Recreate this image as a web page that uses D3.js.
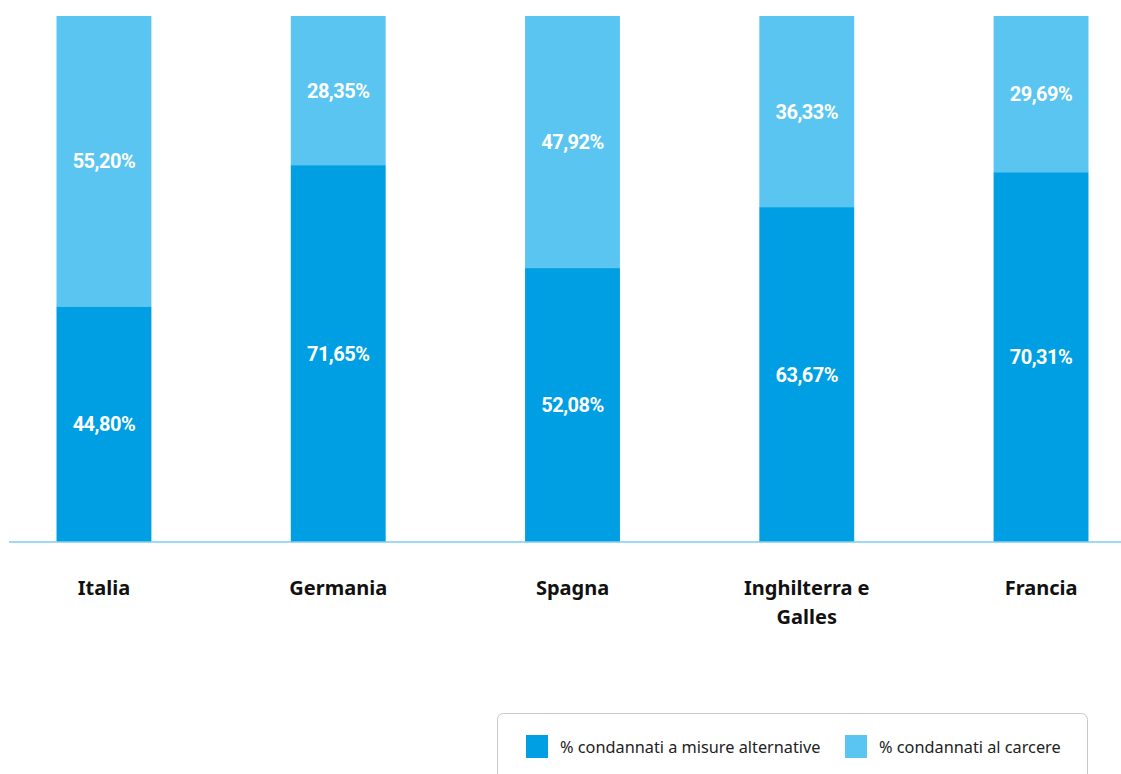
<!DOCTYPE html>
<html><head><meta charset="utf-8">
<script src="https://cdn.jsdelivr.net/npm/d3@7/dist/d3.min.js"></script>
<style>
html,body{margin:0;padding:0;background:#fff;}
svg{display:block;}
</style></head>
<body>
<svg id="chart" width="1121" height="774"></svg>
<script>
const categories = [["Italia"], ["Germania"], ["Spagna"], ["Inghilterra e", "Galles"], ["Francia"]];
const alternative = [44.80, 71.65, 52.08, 63.67, 70.31];
const carcere = [55.20, 28.35, 47.92, 36.33, 29.69];
const seriesNames = ["% condannati a misure alternative", "% condannati al carcere"];
const colors = ["#009FE3", "#5BC5F2"];

const W = 1121, H = 774;
const svg = d3.select("#chart");
const keys = categories.map(c => c.join(" "));
const rows = keys.map((k, i) => ({key: k, alt: alternative[i], car: carcere[i]}));

const x = d3.scaleBand().domain(keys).range([12, 1133]).paddingInner(0.595).paddingOuter(0.19);
const y = d3.scaleLinear().domain([0, 100]).range([542, 16]);

const stack = d3.stack().keys(["alt", "car"])(rows);

const g = svg.append("g");
stack.forEach((layer, li) => {
  g.selectAll(null).data(layer).enter().append("rect")
    .attr("x", d => x(d.data.key))
    .attr("width", x.bandwidth())
    .attr("y", d => y(d[1]))
    .attr("height", d => y(d[0]) - y(d[1]))
    .attr("fill", colors[li]);
  g.selectAll(null).data(layer).enter().append("text")
    .attr("x", d => x(d.data.key) + x.bandwidth() / 2)
    .attr("y", d => (y(d[0]) + y(d[1])) / 2)
    .attr("dy", "0.36em")
    .attr("text-anchor", "middle")
    .attr("fill", "#fff")
    .attr("font-family", "Roboto, sans-serif")
    .attr("font-weight", 700)
    .attr("font-size", 20)
    .attr("letter-spacing", "-0.5")
    .text(d => (d[1] - d[0]).toFixed(2).replace(".", ",") + "%");
});

// axis baseline
svg.append("line")
  .attr("x1", 9).attr("x2", W)
  .attr("y1", y(0)).attr("y2", y(0))
  .attr("stroke", "#7FCDF0").attr("stroke-width", 1.5);

// category labels
const xAxis = d3.axisBottom(x).tickSize(0).tickFormat(() => "");
const ax = svg.append("g").attr("transform", `translate(0,${y(0)})`).call(xAxis);
ax.select(".domain").remove();
ax.selectAll(".tick").each(function(d, i) {
  const t = d3.select(this).append("text")
    .attr("text-anchor", "middle")
    .attr("fill", "#111")
    .attr("font-family", "'Noto Sans', sans-serif")
    .attr("font-weight", 700)
    .attr("font-size", 20)
    .attr("y", 53);
  categories[i].forEach((line, li) => {
    t.append("tspan").attr("x", 0).attr("dy", li === 0 ? 0 : 29).text(line);
  });
});

// legend
const lg = svg.append("g");
lg.append("rect")
  .attr("x", 497.5).attr("y", 713.5)
  .attr("width", 590).attr("height", 90)
  .attr("rx", 6).attr("ry", 6)
  .attr("fill", "#fff").attr("stroke", "#c8c8c8").attr("stroke-width", 1);
const legendX = [526, 845];
seriesNames.forEach((n, i) => {
  lg.append("rect").attr("x", legendX[i]).attr("y", 735)
    .attr("width", 22).attr("height", 23).attr("fill", colors[i]);
  lg.append("text").attr("x", legendX[i] + 34).attr("y", 747)
    .attr("dy", "0.35em")
    .attr("font-family", "'Noto Sans', sans-serif")
    .attr("font-size", 16.3)
    .attr("fill", "#222")
    .text(n);
});
</script>
</body></html>
